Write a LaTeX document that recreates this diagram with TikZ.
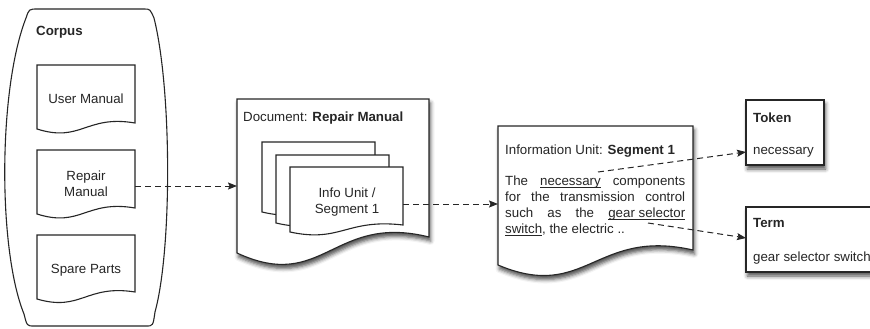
\documentclass[tikz,border=0pt]{standalone}
\usepackage{fontspec}
\setmainfont{Liberation Sans}
\usetikzlibrary{arrows.meta,shadows,shadows.blur}
\newcommand\docpath[6]{(#1,#2) -- (#3,#2) -- (#3,#4) .. controls ({#1+0.5*(#3-#1)},{#4-0.6*#6}) and ({#1+0.45*(#3-#1)},{#5+#6}) .. (#1,#5) -- cycle}
\newsavebox\ulbox
\newcommand\ulx[1]{\sbox\ulbox{#1}\rlap{\rule[-2.2pt]{\wd\ulbox}{0.6pt}}\usebox\ulbox}
\tikzset{
  shape line/.style={draw=black!85, line width=1.1pt, fill=white},
  shadowed/.style={shape line, blur shadow={shadow xshift=1.5pt, shadow yshift=-4pt, shadow blur radius=4pt, shadow opacity=70}},
  lbl/.style={inner sep=0pt, font=\fontsize{13.3}{16}\selectfont, text=black!85},
  bold lbl/.style={lbl, font=\fontsize{13.3}{16}\selectfont\bfseries},
  flow/.style={draw=black!85, line width=1pt, dash pattern=on 6pt off 4pt, -{Stealth[length=9pt,width=7pt,inset=1.5pt]}}
}
\begin{document}
\begin{tikzpicture}[x=1pt,y=-1pt]
\useasboundingbox (0,0) rectangle (870,329);
% corpus container
\draw[shape line] (38,9) -- (144,9) .. controls (150,9) .. (154,18)
  .. controls (172,90) and (172,250) .. (155,312)
  .. controls (153,326) .. (146,326) -- (34,326)
  .. controls (27,326) .. (24,314)
  .. controls (-2,250) and (-2,90) .. (26,18)
  .. controls (29,9) .. (38,9) -- cycle;
\node[bold lbl, anchor=base west] (corpus) at (36,36) {Corpus};
% documents in corpus
\draw[shape line] \docpath{37}{65}{135}{123}{129}{14};
\node[lbl, anchor=base] (um) at (86,103) {User Manual};
\draw[shape line] \docpath{37}{150}{135}{208}{214}{14};
\node[lbl, anchor=base] (rm1) at (86,180) {Repair};
\node[lbl, anchor=base] (rm2) at (86,196) {Manual};
\draw[shape line] \docpath{37}{235}{135}{292}{299}{13};
\node[lbl, anchor=base] (sp) at (86,273) {Spare Parts};
\coordinate (rmR) at (135,186);
% document: repair manual
\draw[shadowed] \docpath{237}{99}{429}{237}{253}{40};
\node[lbl, anchor=base west] (doctitle) at (243,121) {Document: \textbf{Repair Manual}};
\coordinate (docL) at (237,186);
\draw[shape line] \docpath{262}{142}{375}{205}{212}{12};
\draw[shape line] \docpath{276}{155}{389}{216}{223}{12};
\draw[shape line] \docpath{290}{167}{403}{225}{232}{11};
\node[lbl, anchor=base] (iu1) at (347,197) {Info Unit /};
\node[lbl, anchor=base] (iu2) at (347,213) {Segment 1};
\coordinate (segR) at (403,204);
% information unit
\draw[shadowed] \docpath{498}{126}{693}{250}{265}{37};
\coordinate (infoL) at (498,204);
\node[lbl, anchor=base west] (infotitle) at (505,154) {Information Unit: \textbf{Segment 1}};
\node[lbl, anchor=base west] (l1) at (505,185) {\makebox[180pt][s]{The \ulx{necessary} components}};
\node[lbl, anchor=base west] (l2) at (505,201) {\makebox[180pt][s]{for the transmission control}};
\node[lbl, anchor=base west] (l3) at (505,217) {\makebox[180pt][s]{such as the \ulx{gear selector}}};
\node[lbl, anchor=base west] (l4) at (505,233) {\ulx{switch}, the electric ..};
\coordinate (nec) at (598,172);
\coordinate (gss) at (648,223);
% token
\draw[shadowed] (746,100) rectangle (824,165);
\node[bold lbl, anchor=base west] (token) at (753,122) {Token};
\node[lbl, anchor=base west] (tokval) at (753,154) {necessary};
\coordinate (tokL) at (746,152);
% term
\draw[shadowed] (746,207) rectangle (890,272);
\node[bold lbl, anchor=base west] (term) at (753,227) {Term};
\node[lbl, anchor=base west] (termval) at (753,261) {gear selector switch};
\coordinate (termL) at (746,238);
% connectors
\draw[flow] (rmR) -- (docL);
\draw[flow] (segR) -- (infoL);
\draw[flow] (nec) -- (tokL);
\draw[flow] (gss) -- (termL);
\end{tikzpicture}
\end{document}
